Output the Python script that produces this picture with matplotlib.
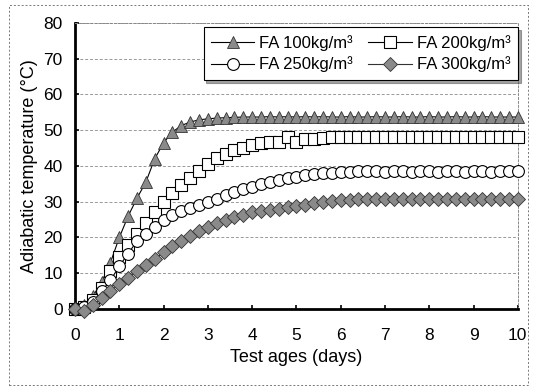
import matplotlib
matplotlib.use("Agg")
import matplotlib.pyplot as plt
from matplotlib.patches import Rectangle

plt.rcParams['font.family'] = ['Liberation Sans', 'DejaVu Sans']

# test ages (days), one reading every 0.2 day
days = [0.0, 0.2, 0.4, 0.6, 0.8, 1.0, 1.2, 1.4, 1.6, 1.8,
        2.0, 2.2, 2.4, 2.6, 2.8, 3.0, 3.2, 3.4, 3.6, 3.8,
        4.0, 4.2, 4.4, 4.6, 4.8, 5.0, 5.2, 5.4, 5.6, 5.8,
        6.0, 6.2, 6.4, 6.6, 6.8, 7.0, 7.2, 7.4, 7.6, 7.8,
        8.0, 8.2, 8.4, 8.6, 8.8, 9.0, 9.2, 9.4, 9.6, 9.8, 10.0]

fa100 = [0, 1, 3.5, 7.5, 13, 20, 26, 31, 35.5, 42,
         46.5, 49.5, 51.3, 52.3, 52.9, 53.2, 53.4, 53.5, 53.6, 53.7,
         53.7, 53.7, 53.8, 53.7, 53.8, 53.7, 53.8, 53.7, 53.8, 53.7,
         53.7, 53.8, 53.7, 53.7, 53.8, 53.7, 53.7, 53.8, 53.7, 53.7,
         53.8, 53.7, 53.7, 53.8, 53.7, 53.7, 53.8, 53.7, 53.7, 53.7, 53.7]

fa200 = [0, 0.5, 2.5, 6, 10.5, 14.5, 18, 21, 24, 27,
         30, 32.5, 34.7, 36.6, 38.5, 40.5, 42.2, 43.3, 44.5, 45,
         46, 46.5, 46.8, 46.8, 48.2, 46.8, 47.6, 47.6, 47.8, 48,
         48.2, 48.2, 48.2, 48.2, 48.2, 48.2, 48.2, 48.2, 48.2, 48.2,
         48.2, 48.2, 48.2, 48.2, 48.2, 48.2, 48.2, 48.2, 48.2, 48.2, 48.2]

fa250 = [0, 0.5, 2, 5, 8, 12, 15.5, 19, 21, 22.8,
         24.9, 26.3, 27.3, 28.2, 29.1, 30, 30.9, 31.9, 32.8, 33.6,
         34.2, 35, 35.5, 36, 36.5, 37, 37.4, 37.8, 38, 38,
         38.2, 38.3, 38.5, 38.5, 38.5, 38.4, 38.5, 38.5, 38.4, 38.5,
         38.5, 38.4, 38.5, 38.5, 38.4, 38.5, 38.5, 38.4, 38.5, 38.5, 38.5]

fa300 = [0, -0.5, 1, 3, 5, 7, 8.8, 10.5, 12.2, 14,
         15.8, 17.5, 19, 20.5, 21.8, 23, 24, 25, 25.8, 26.4,
         27, 27.4, 27.7, 28, 28.4, 28.8, 29.2, 29.6, 29.9, 30.2,
         30.4, 30.6, 30.7, 30.8, 30.9, 30.9, 30.9, 30.9, 30.9, 30.9,
         30.9, 30.9, 30.9, 30.9, 30.9, 30.9, 30.9, 30.9, 30.9, 30.9, 30.9]

labels = ['FA 100kg/m³', 'FA 200kg/m³', 'FA 250kg/m³', 'FA 300kg/m³']

fig = plt.figure(figsize=(5.36, 3.87), dpi=100)
ax = fig.add_axes([0.140, 0.2016, 0.826, 0.739])

gray = '#8a8a8a'
dark = '#333333'
h100, = ax.plot(days, fa100, color='black', lw=0.8, marker='^', ms=8,
                mfc=gray, mec=dark, mew=0.6, label=labels[0], clip_on=False, zorder=3)
h200, = ax.plot(days, fa200, color='black', lw=0.8, marker='s', ms=8,
                mfc='white', mec='black', mew=0.8, label=labels[1], clip_on=False, zorder=3)
h250, = ax.plot(days, fa250, color='black', lw=0.8, marker='o', ms=8.5,
                mfc='white', mec='black', mew=0.8, label=labels[2], clip_on=False, zorder=3)
h300, = ax.plot(days, fa300, color=dark, lw=0.8, marker='D', ms=7,
                mfc=gray, mec=dark, mew=0.6, label=labels[3], clip_on=False, zorder=4)

ax.set_xlim(0, 10)
ax.set_ylim(0, 80)
ax.set_xticks(range(0, 11))
ax.set_yticks(range(0, 81, 10))
ax.tick_params(direction='in', length=3, width=1.2, labelsize=12.5, colors='black')
ax.tick_params(axis='x', pad=14)
ax.tick_params(axis='y', pad=9)
ax.yaxis.grid(True, linestyle=(0, (3, 2)), color='#999999', lw=0.7)
ax.set_axisbelow(True)

ax.spines['left'].set_linewidth(2)
ax.spines['bottom'].set_linewidth(2)
for s in ['top', 'right']:
    ax.spines[s].set_linestyle((0, (2, 2)))
    ax.spines[s].set_linewidth(0.7)
    ax.spines[s].set_color('#888888')

ax.set_xlabel('Test ages (days)', fontsize=13, labelpad=4)
ax.set_ylabel('Adiabatic temperature (°C)', fontsize=13, labelpad=4)

# row-wise order: 100, 200 / 250, 300
leg = ax.legend([h100, h250, h200, h300],
                [labels[0], labels[2], labels[1], labels[3]],
                ncol=2, loc='upper right', bbox_to_anchor=(1.0, 0.985),
                borderaxespad=0, fontsize=12, frameon=True, fancybox=False,
                shadow=True, handlelength=2.6, handletextpad=0.3,
                columnspacing=0.9, borderpad=0.45, labelspacing=0.35)
leg.get_frame().set_edgecolor('black')
leg.get_frame().set_linewidth(0.8)
leg.get_frame().set_alpha(1)

# dotted frame around the whole figure
fig.patches.append(Rectangle((9 / 536, 2 / 387), 519 / 536, 380 / 387,
                             transform=fig.transFigure, fill=False,
                             ec='#777777', lw=0.7, ls=(0, (2, 2))))

fig.savefig('out.png', dpi=100, facecolor='white')
